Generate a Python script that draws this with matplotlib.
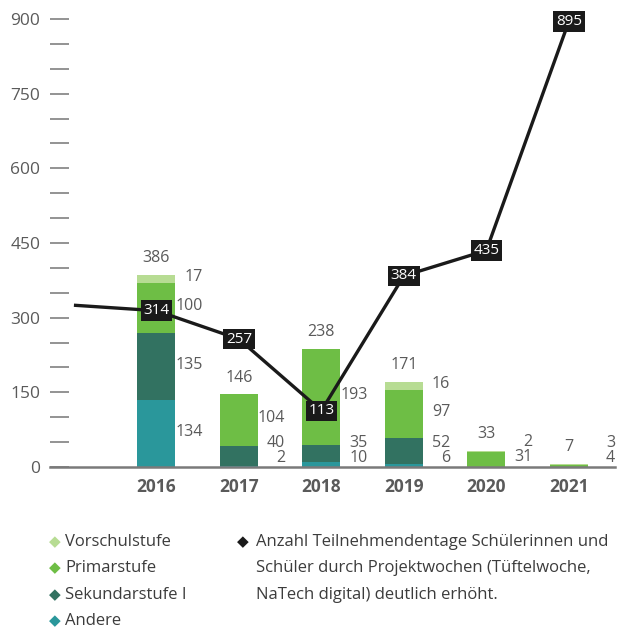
import matplotlib.pyplot as plt
import numpy as np

plt.rcParams['font.family'] = ['Open Sans', 'DejaVu Sans']

# data
years = ['2016', '2017', '2018', '2019', '2020', '2021']
andere = [134, 2, 10, 6, 0, 0]
sekundar = [135, 40, 35, 52, 0, 0]
primar = [100, 104, 193, 97, 31, 4]
vorschul = [17, 0, 0, 16, 2, 3]
totals = [386, 146, 238, 171, 33, 7]

line_years = ['2015', '2016', '2017', '2018', '2019', '2020', '2021']
line_vals = [325, 314, 257, 113, 384, 435, 895]
line_labels = ['', '314', '257', '113', '384', '435', '895']

c_andere = '#2a979b'
c_sek = '#327261'
c_primar = '#6ebe45'
c_vorschul = '#b7dc93'
txt_grey = '#5a5a5a'

fig = plt.figure(figsize=(6.17, 6.29), dpi=100)
ax = fig.add_axes([50/617, 162/629, 565/617, 448/629])

x_bar = np.arange(1, len(years) + 1)
x_line = np.arange(len(line_years))
w = 0.46

series = [(andere, c_andere), (sekundar, c_sek), (primar, c_primar), (vorschul, c_vorschul)]
bottom = np.zeros(len(years))
for vals, col in series:
    ax.bar(x_bar, vals, w, bottom=bottom, color=col, zorder=2)
    bottom += np.array(vals)

# segment labels to the right of each bar
for i in range(len(years)):
    base = 0
    prev_y = -100
    for vals, col in series:
        v = vals[i]
        if v == 0:
            continue
        y = max(base + v / 2 + 4, 18, prev_y + 30)
        ax.text(x_bar[i] + 0.56, y, str(v), ha='right', va='center',
                fontsize=11.5, color=txt_grey, zorder=3)
        prev_y = y
        base += v
    ax.annotate(str(totals[i]), (x_bar[i], totals[i]), xytext=(0, 12),
                textcoords='offset points', ha='center', va='center',
                fontsize=11.5, color=txt_grey)

# line
ax.plot(x_line, line_vals, color='#1a1a1a', lw=2.4, zorder=4, solid_capstyle='butt')
for xi, v, lab in zip(x_line, line_vals, line_labels):
    if lab:
        ax.text(xi, v, lab, ha='center', va='center', color='white', fontsize=11,
                zorder=5, bbox=dict(boxstyle='square,pad=0.18', fc='#1a1a1a', ec='none'))

ax.set_xlim(-0.29, 6.56)
ax.set_ylim(0, 900)
ax.set_yticks(np.arange(0, 901, 150))
ax.set_yticks(np.arange(0, 901, 50), minor=True)
ax.tick_params(axis='y', which='both', direction='in', length=14, width=1.3,
               color='#8a8a8a', pad=7, labelsize=12.5, labelcolor=txt_grey)
ax.set_xticks(x_bar)
ax.set_xticklabels(years, fontweight='bold', fontsize=12.5, color=txt_grey)
ax.tick_params(axis='x', length=0, pad=8)
for s in ['left', 'right', 'top']:
    ax.spines[s].set_visible(False)
ax.spines['bottom'].set_color('#7a7a7a')
ax.spines['bottom'].set_linewidth(1.8)
ax.spines['bottom'].set_zorder(3)
ax.patch.set_visible(False)

# legend drawn by hand
legend_items = ['Vorschulstufe', 'Primarstufe', 'Sekundarstufe I', 'Andere']
legend_cols = [c_vorschul, c_primar, c_sek, c_andere]
rows_y = [542, 568, 595, 621]
for lab, col, yy in zip(legend_items, legend_cols, rows_y):
    fig.text(49/617, 1 - yy/629, '\u25c6', color=col, fontsize=11, va='center',
             family='DejaVu Sans')
    fig.text(65/617, 1 - yy/629, lab, color='#3c3c3c', fontsize=12, va='center')

line_note = ['Anzahl Teilnehmendentage Schülerinnen und',
             'Schüler durch Projektwochen (Tüftelwoche,',
             'NaTech digital) deutlich erhöht.']
fig.text(237/617, 1 - rows_y[0]/629, '\u25c6', color='#1a1a1a', fontsize=11,
         va='center', family='DejaVu Sans')
for t, yy in zip(line_note, rows_y):
    fig.text(256/617, 1 - yy/629, t, color='#3c3c3c', fontsize=12, va='center')

fig.savefig('out.png', dpi=100)
